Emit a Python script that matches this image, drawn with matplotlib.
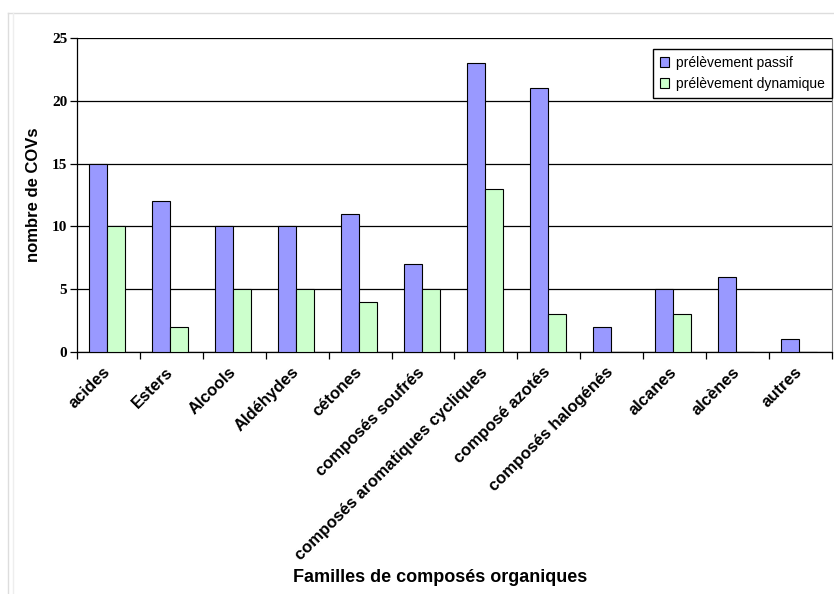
import matplotlib
matplotlib.use("Agg")
import matplotlib.pyplot as plt
import matplotlib.transforms as mtransforms
import numpy as np
from matplotlib.lines import Line2D

categories = ["acides", "Esters", "Alcools", "Aldéhydes", "cétones", "composés soufrés",
              "composés aromatiques cycliques", "composé azotés", "composés halogénés",
              "alcanes", "alcènes", "autres"]
passif = [15, 12, 10, 10, 11, 7, 23, 21, 2, 5, 6, 1]
dynamique = [10, 2, 5, 5, 4, 5, 13, 3, 0, 3, 0, 0]
series_labels = ["prélèvement passif", "prélèvement dynamique"]
yticks = [0, 5, 10, 15, 20, 25]

W, H = 834, 594
fig = plt.figure(figsize=(W / 100, H / 100), dpi=100)
ax = fig.add_axes([77 / W, 1 - 352 / H, (832 - 77) / W, (352 - 38) / H])

# outer light frame
fig.add_artist(Line2D([8 / W, 1], [1 - 13 / H, 1 - 13 / H], color="#dddddd", lw=1, transform=fig.transFigure))
fig.add_artist(Line2D([8 / W, 8 / W], [0, 1 - 13 / H], color="#dddddd", lw=1, transform=fig.transFigure))
fig.add_artist(Line2D([13 / W, 13 / W], [0, 1 - 13 / H], color="#eeeeee", lw=1, transform=fig.transFigure))

x = np.arange(len(categories))
bw = 0.286
ax.bar(x - bw / 2 - 0.02, passif, bw, color="#9999ff", edgecolor="black", linewidth=0.8,
       label=series_labels[0], zorder=3)
ax.bar(x + bw / 2 - 0.02, dynamique, bw, color="#ccffcc", edgecolor="black", linewidth=0.8,
       label=series_labels[1], zorder=3)

ax.set_xlim(-0.5, len(categories) - 0.5)
ax.set_ylim(0, 25)
ax.set_yticks(yticks)
ax.set_yticklabels([str(v) for v in yticks], fontfamily="Liberation Serif", fontweight="bold", fontsize=11)
ax.yaxis.grid(True, color="black", linewidth=0.9, zorder=0)
ax.set_axisbelow(True)

ax.set_xticks(np.arange(len(categories) + 1) - 0.5)
ax.set_xticklabels([])
ax.set_xticks(x, minor=True)
ax.set_xticklabels(categories, minor=True, rotation=45, ha="right", va="top",
                   rotation_mode="anchor", fontfamily="Liberation Sans", fontweight="bold", fontsize=12)
ax.tick_params(axis="x", which="minor", length=0, pad=9)
ax.tick_params(axis="x", which="major", length=5, direction="out", width=0.9)
ax.tick_params(axis="y", length=5, direction="out", width=0.9, pad=2)
offset = mtransforms.ScaledTranslation(-6 / 100, 0, fig.dpi_scale_trans)
for lbl in ax.get_xticklabels(minor=True):
    lbl.set_transform(lbl.get_transform() + offset)

for side in ["left", "bottom"]:
    ax.spines[side].set_color("black")
    ax.spines[side].set_linewidth(0.9)
ax.spines["top"].set_visible(False)
ax.spines["right"].set_color("#888888")
ax.spines["right"].set_linewidth(0.8)

ax.set_ylabel("nombre de COVs", fontfamily="Liberation Sans", fontweight="bold", fontsize=12, labelpad=8)
fig.text(440 / W, 1 - 577 / H, "Familles de composés organiques", ha="center", va="center",
         fontfamily="Liberation Sans", fontweight="bold", fontsize=13)

leg = ax.legend(loc="upper right", bbox_to_anchor=(1.0, 1 - 11 / 314), borderaxespad=0,
                fancybox=False, edgecolor="black", framealpha=1,
                prop={"family": "Liberation Sans", "size": 10},
                handlelength=0.7, handleheight=0.7, handletextpad=0.5, labelspacing=0.5,
                borderpad=0.5)
leg.get_frame().set_linewidth(1.0)

fig.savefig("out.png", dpi=100)
